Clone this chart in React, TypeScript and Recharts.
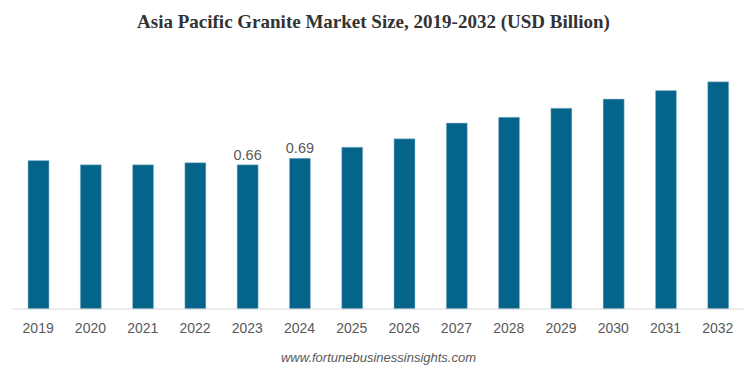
import { BarChart, Bar, XAxis, YAxis, LabelList } from 'recharts';

const years = ['2019', '2020', '2021', '2022', '2023', '2024', '2025', '2026', '2027', '2028', '2029', '2030', '2031', '2032'];
const marketSize = [0.68, 0.66, 0.66, 0.67, 0.66, 0.69, 0.741, 0.779, 0.851, 0.878, 0.919, 0.961, 1.0, 1.04];
const shownLabels = ['', '', '', '', '0.66', '0.69', '', '', '', '', '', '', '', ''];

const data = years.map((year, i) => ({ year, value: marketSize[i], label: shownLabels[i] }));

export default function App() {
  return (
    <div style={{ position: 'absolute', left: 0, top: 0, width: 747, height: 372, background: '#fff', fontFamily: 'Arial, "Liberation Sans", sans-serif' }}>
      <div
        style={{
          position: 'absolute',
          top: 11,
          left: 0,
          width: 747,
          textAlign: 'center',
          fontFamily: '"Times New Roman", "Liberation Serif", serif',
          fontWeight: 'bold',
          fontSize: 19,
          color: '#333',
        }}
      >
        Asia Pacific Granite Market Size, 2019-2032 (USD Billion)
      </div>
      <BarChart width={747} height={372} data={data} margin={{ top: 60, right: 3, left: 12, bottom: 33 }} barSize={21}>
        <XAxis
          dataKey="year"
          axisLine={{ stroke: '#d9d9d9' }}
          tickLine={false}
          tickMargin={8}
          height={30}
          interval={0}
          tick={{ fontSize: 14, fill: '#595959' }}
        />
        <YAxis hide domain={[0, 1.14]} />
        <Bar dataKey="value" fill="#056489" stroke="#9fc3d4" strokeWidth={0.5} isAnimationActive={false}>
          <LabelList dataKey="label" position="top" offset={5} style={{ fontSize: 14.5, fill: '#595959' }} />
        </Bar>
      </BarChart>
      <div
        style={{
          position: 'absolute',
          top: 350,
          left: 5,
          width: 747,
          textAlign: 'center',
          fontStyle: 'italic',
          fontSize: 13,
          color: '#595959',
        }}
      >
        www.fortunebusinessinsights.com
      </div>
    </div>
  );
}
